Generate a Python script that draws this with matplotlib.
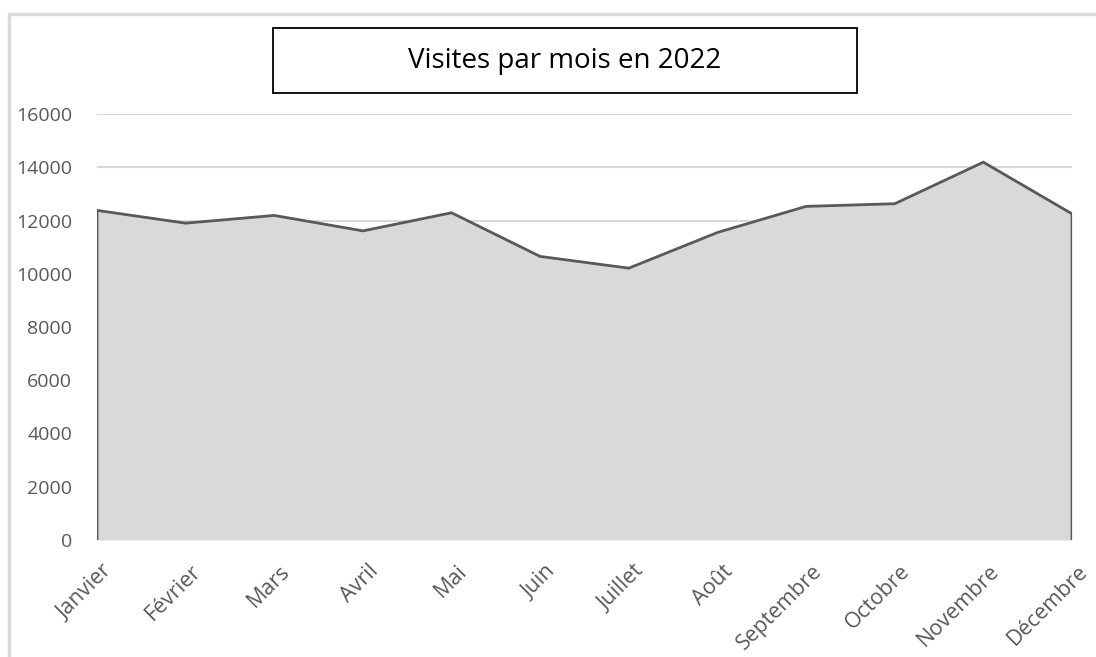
import matplotlib
matplotlib.use("Agg")
import matplotlib.pyplot as plt
from matplotlib.patches import Rectangle
from matplotlib.transforms import ScaledTranslation

months = ["Janvier", "Février", "Mars", "Avril", "Mai", "Juin", "Juillet",
          "Août", "Septembre", "Octobre", "Novembre", "Décembre"]
visits = [12380, 11900, 12190, 11610, 12290, 10650, 10210,
          11550, 12530, 12630, 14190, 12250]
yticks = [0, 2000, 4000, 6000, 8000, 10000, 12000, 14000, 16000]
title = "Visites par mois en 2022"

W, H = 1096, 657
fig = plt.figure(figsize=(W / 100, H / 100), dpi=100)
plt.rcParams['font.family'] = ['Open Sans', 'DejaVu Sans']

# outer chart border (light gray), cut off at right/bottom
fig.add_artist(Rectangle((9 / W, -0.1), 1.2, (H - 14) / H + 0.1,
                         transform=fig.transFigure, fill=False,
                         edgecolor="#d9d9d9", linewidth=2.5))

left, right, top, bottom = 97, 1072, 114, 540
ax = fig.add_axes([left / W, 1 - bottom / H, (right - left) / W, (bottom - top) / H])

x = list(range(len(months)))
ax.fill_between(x, visits, 0, color="#d9d9d9", linewidth=0, zorder=2)
ax.plot([x[0]] + x + [x[-1]], [0] + visits + [0], color="#595959",
        linewidth=2, zorder=3, solid_joinstyle="miter")

ax.set_xlim(x[0], x[-1])
ax.set_ylim(0, 16000)
ax.set_yticks(yticks)
ax.set_yticklabels([str(v) for v in yticks])
ax.grid(axis="y", color="#d9d9d9", linewidth=1.5, zorder=1)
ax.set_axisbelow(True)
for s in ax.spines.values():
    s.set_visible(False)
ax.tick_params(axis="y", length=0, pad=18, labelsize=14, labelcolor="#595959")
ax.tick_params(axis="x", length=0, pad=15, labelsize=15.5, labelcolor="#595959")
ax.set_xticks(x)
ax.set_xticklabels(months, rotation=45, ha="right", va="top",
                   rotation_mode="anchor")
shift = ScaledTranslation(5 / 100, 0, fig.dpi_scale_trans)
for lab in ax.get_xticklabels():
    lab.set_transform(lab.get_transform() + shift)

# title box
fig.add_artist(Rectangle((273 / W, 1 - 93 / H), (857 - 273) / W, (93 - 28) / H,
                         transform=fig.transFigure, fill=False,
                         edgecolor="black", linewidth=1.3))
fig.text((273 + 857) / 2 / W, 1 - 61 / H, title, ha="center", va="center",
         fontsize=20, color="black")

fig.savefig("out.png", dpi=100)
